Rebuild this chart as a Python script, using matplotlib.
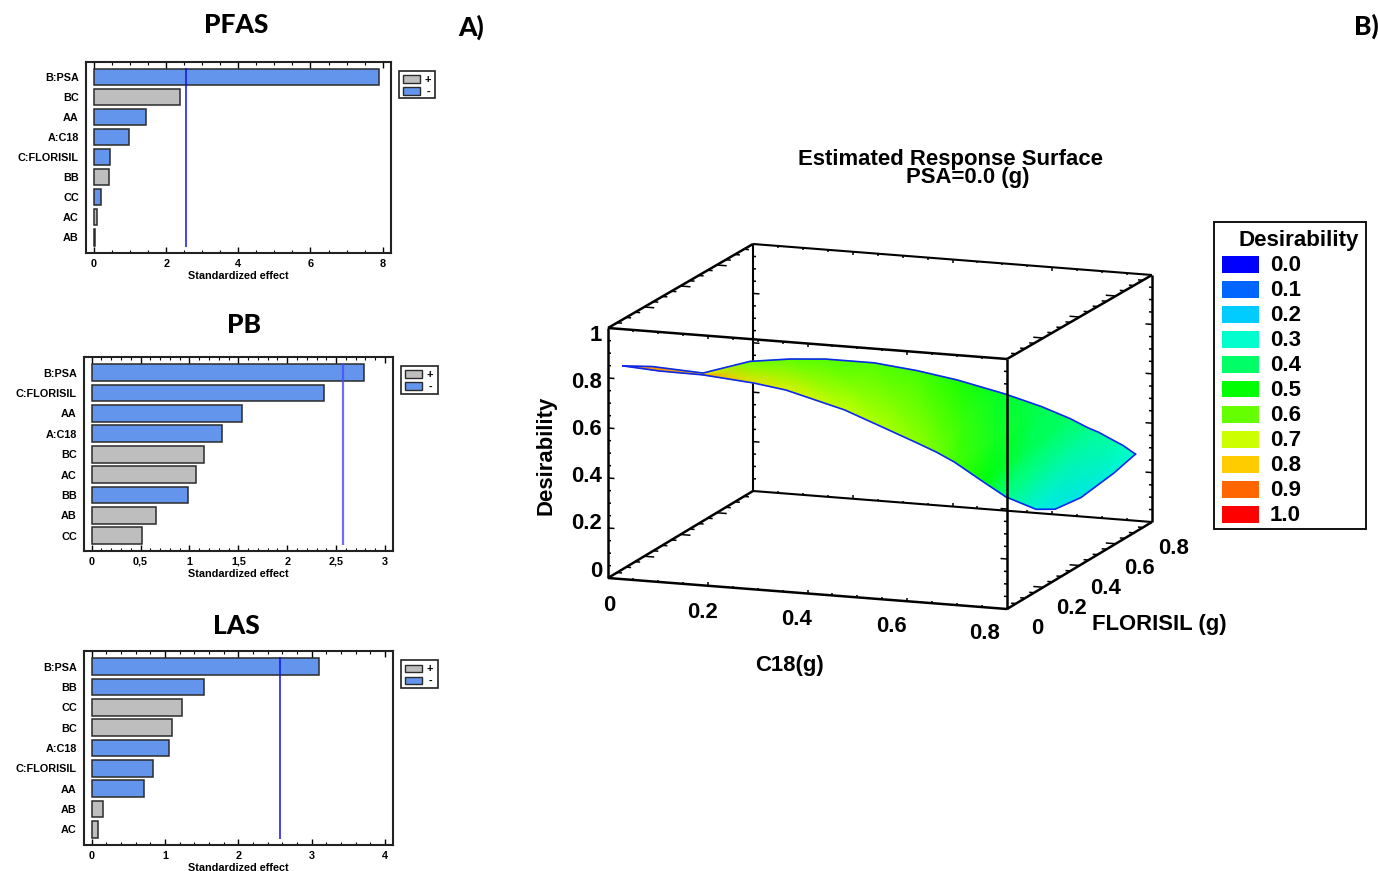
#!/usr/bin/env python3
"""
Pareto charts of standardized effects and the estimated response surface.
"""

import numpy as np
import matplotlib
matplotlib.use('Agg')
import matplotlib.pyplot as plt
from matplotlib.collections import LineCollection
from matplotlib.colors import LinearSegmentedColormap
from matplotlib.patches import Rectangle

W, H = 1378, 871
BLUE = '#6495ED'
GRAY = '#BEBEBE'
EDGE = '#2b2b2b'
LABEL_FONT = 'Liberation Sans'
TITLE_FONT = 'Lato'
SMALL = 7.8
BIG = 15.9

# Pareto charts
pfas_terms = ['B:PSA', 'BC', 'AA', 'A:C18', 'C:FLORISIL', 'BB', 'CC', 'AC', 'AB']
pfas_effects = [7.91, 2.38, 1.44, 0.97, 0.45, 0.425, 0.20, 0.09, 0.02]
pfas_signs = ['-', '+', '-', '-', '-', '+', '-', '+', '+']
pfas_limit = 2.56
pfas_ticks = [0, 2, 4, 6, 8]
pfas_ticklabels = ['0', '2', '4', '6', '8']

pb_terms = ['B:PSA', 'C:FLORISIL', 'AA', 'A:C18', 'BC', 'AC', 'BB', 'AB', 'CC']
pb_effects = [2.78, 2.376, 1.534, 1.333, 1.146, 1.064, 0.989, 0.661, 0.518]
pb_signs = ['-', '-', '-', '-', '+', '+', '-', '+', '+']
pb_limit = 2.57
pb_ticks = [0, 0.5, 1, 1.5, 2, 2.5, 3]
pb_ticklabels = ['0', '0,5', '1', '1,5', '2', '2,5', '3']

las_terms = ['B:PSA', 'BB', 'CC', 'BC', 'A:C18', 'C:FLORISIL', 'AA', 'AB', 'AC']
las_effects = [3.10, 1.536, 1.23, 1.10, 1.055, 0.83, 0.72, 0.16, 0.082]
las_signs = ['-', '-', '+', '+', '-', '-', '-', '+', '+']
las_limit = 2.573
las_ticks = [0, 1, 2, 3, 4]
las_ticklabels = ['0', '1', '2', '3', '4']

# Surface outline: points along the far and near edge, in C18, FLORISIL, desirability
upper_c18 = [0.03, 0.081, 0.153, 0.115, 0.119, 0.175, 0.272, 0.358, 0.438,
             0.533, 0.607, 0.665, 0.70, 0.723, 0.745, 0.771, 0.798]
upper_florisil = [0, 0.02, 0.103, 0.467, 0.677, 0.72, 0.72, 0.72, 0.72,
                  0.72, 0.72, 0.72, 0.72, 0.72, 0.72, 0.72, 0.714]
upper_des = [0.853, 0.85, 0.80, 0.686, 0.606, 0.596, 0.596, 0.578, 0.553,
             0.512, 0.472, 0.432, 0.401, 0.385, 0.364, 0.34, 0.312]
lower_c18 = [0.03, 0.104, 0.19, 0.293, 0.357, 0.474, 0.546, 0.62, 0.658,
             0.694, 0.756, 0.798, 0.8, 0.8, 0.8, 0.8, 0.798]
lower_florisil = [0, 0, 0, 0, 0, 0, 0, 0, 0,
                  0, 0, 0, 0.16, 0.265, 0.408, 0.59, 0.714]
lower_des = [0.853, 0.844, 0.842, 0.825, 0.807, 0.746, 0.692, 0.636, 0.606,
             0.572, 0.497, 0.448, 0.33, 0.285, 0.27, 0.29, 0.312]

# Colour level seen at those same points
upper_level = [0.853, 0.85, 0.74, 0.61, 0.59, 0.58, 0.58, 0.57, 0.53,
               0.46, 0.42, 0.40, 0.37, 0.35, 0.34, 0.32, 0.30]
lower_level = [0.853, 0.85, 0.84, 0.75, 0.73, 0.69, 0.67, 0.64, 0.61,
               0.57, 0.49, 0.37, 0.27, 0.25, 0.25, 0.28, 0.30]

legend_levels = ['0.0', '0.1', '0.2', '0.3', '0.4', '0.5', '0.6', '0.7', '0.8', '0.9', '1.0']
legend_colors = ['#0000ff', '#0066ff', '#00ccff', '#00ffcc', '#00ff66', '#00ff00',
                 '#66ff00', '#ccff00', '#ffcc00', '#ff6600', '#ff0000']
c18_ticks = [0, 0.2, 0.4, 0.6, 0.8]
florisil_ticks = [0, 0.2, 0.4, 0.6, 0.8]
des_ticks = [0, 0.2, 0.4, 0.6, 0.8, 1]


def fmt(v):
    return f'{v:g}'


def project(c18, florisil, des):
    """Oblique projection of the surface box to page pixels"""
    c18, florisil, des = np.asarray(c18), np.asarray(florisil), np.asarray(des)
    px = 608 + 498.75 * c18 + 181.25 * florisil
    py = 578 + 38.75 * c18 - 108.75 * florisil - (250 - 3.75 * florisil) * des
    return px, py


def add_pareto(fig, page, box, first_y, step, x0, x_unit, terms, effects, signs,
               limit, ticks, ticklabels, minor_step, title, title_pos, legend_box,
               limit_style):
    left, top, right, bottom = box
    ax = fig.add_axes([left / W, 1 - bottom / H, (right - left) / W, (bottom - top) / H])
    ax.patch.set_alpha(0)
    y = np.arange(len(terms))
    colors = [BLUE if s == '-' else GRAY for s in signs]
    ax.barh(y, effects, height=0.82, color=colors, edgecolor=EDGE, linewidth=1.1)
    ax.vlines(limit, -0.47, len(terms) - 1 + 0.47, **limit_style)
    ax.set_xlim((left - x0) / x_unit, (right - x0) / x_unit)
    ax.set_ylim((bottom - first_y) / step, (top - first_y) / step)
    ax.set_yticks(y)
    ax.set_yticklabels(terms, fontsize=SMALL, fontweight='bold', family=LABEL_FONT)
    ax.tick_params(axis='y', length=0, pad=5.2)
    ax.set_xticks(ticks)
    ax.set_xticklabels(ticklabels, fontsize=SMALL, fontweight='bold', family=LABEL_FONT,
                       va='baseline')
    ax.set_xticks(np.arange(0, ticks[-1] + 1e-6, minor_step), minor=True)
    ax.tick_params(axis='x', which='major', direction='in', top=True, length=4,
                   width=1, pad=10)
    ax.tick_params(axis='x', which='minor', direction='in', top=True, length=2, width=0.8)
    for side in ax.spines.values():
        side.set_linewidth(1.5)
        side.set_color('#222222')
    page.text((x0 + ticks[-1] * x_unit + x0) / 2, bottom + 23, 'Standardized effect',
              fontsize=SMALL, fontweight='bold', family=LABEL_FONT, ha='center', va='center')
    page.text(title_pos[0], title_pos[1], title, fontsize=19, fontweight='black',
              family=TITLE_FONT, ha='center', va='center')

    # small +/- key next to the frame
    lx0, ly0, lx1, ly1 = legend_box
    page.add_patch(Rectangle((lx0, ly0), lx1 - lx0, ly1 - ly0, fc='white', ec='#222222', lw=1.2))
    for row, (color, sign) in enumerate([(GRAY, '+'), (BLUE, '-')]):
        page.add_patch(Rectangle((lx0 + 4, ly0 + 4.5 + 12 * row), 17, 7.5, fc=color, ec=EDGE, lw=1))
        page.text(lx0 + 29, ly0 + 8.5 + 12 * row, sign, fontsize=SMALL, fontweight='bold',
                  family=LABEL_FONT, ha='center', va='center')
    return ax


def add_box_edges(page):
    back = []
    front = []
    for a, b in [((0, 0.8, 0), (0.8, 0.8, 0)), ((0, 0.8, 1), (0.8, 0.8, 1)),
                 ((0, 0.8, 0), (0, 0.8, 1))]:
        back.append(list(zip(*project(*zip(a, b)))))
    for a, b in [((0, 0, 0), (0.8, 0, 0)), ((0, 0, 1), (0.8, 0, 1)),
                 ((0, 0, 0), (0, 0, 1)), ((0.8, 0, 0), (0.8, 0, 1)),
                 ((0.8, 0.8, 0), (0.8, 0.8, 1)), ((0, 0, 0), (0, 0.8, 0)),
                 ((0, 0, 1), (0, 0.8, 1)), ((0.8, 0, 0), (0.8, 0.8, 0)),
                 ((0.8, 0, 1), (0.8, 0.8, 1))]:
        front.append(list(zip(*project(*zip(a, b)))))
    page.add_collection(LineCollection(back, colors='black', linewidths=1.5, zorder=1))
    page.add_collection(LineCollection(front, colors='black', linewidths=1.8, zorder=3))


def add_box_ticks(page):
    segs = []

    def tick(start, delta):
        end = [s + d for s, d in zip(start, delta)]
        segs.append(list(zip(*project(*zip(start, end)))))

    # vertical edges
    for v in np.arange(0.05, 1.0, 0.05):
        major = abs(v / 0.2 - round(v / 0.2)) < 1e-6
        d = 0.013 if major else 0.006
        tick((0, 0, v), (d, 0, 0))
        tick((0, 0.8, v), (d, 0, 0))
        tick((0.8, 0, v), (-d, 0, 0))
        tick((0.8, 0.8, v), (-d, 0, 0))
    # edges along C18 and FLORISIL
    for v in np.arange(0.05, 0.8, 0.05):
        major = abs(v / 0.2 - round(v / 0.2)) < 1e-6
        d = 0.02 if major else 0.01
        for z in (0, 1):
            tick((0, v, z), (d, 0, 0))
            tick((0.8, v, z), (-d, 0, 0))
        h = 0.014 if major else 0.008
        tick((v, 0, 0), (0, 0, h))
        tick((v, 0.8, 0), (0, 0, h))
        tick((v, 0, 1), (0, 0, -h))
        tick((v, 0.8, 1), (0, 0, -h))
    page.add_collection(LineCollection(segs, colors='black', linewidths=1.1, zorder=1))


def add_surface(page):
    cmap = LinearSegmentedColormap.from_list('desirability', legend_colors)
    ux, uy = project(upper_c18, upper_florisil, upper_des)
    lx, ly = project(lower_c18, lower_florisil, lower_des)
    page.pcolormesh(np.array([ux, lx]), np.array([uy, ly]),
                    np.array([upper_level, lower_level]), cmap=cmap, vmin=0, vmax=1,
                    shading='gouraud', zorder=2)
    page.plot(ux, uy, color='#0a28f0', lw=1.2, zorder=2.5)
    page.plot(lx, ly, color='#0a28f0', lw=1.2, zorder=2.5)


def add_surface_text(page):
    bold = dict(fontweight='bold', family=LABEL_FONT, ha='center', va='center', zorder=4)
    page.text(951, 159, 'Estimated Response Surface', fontsize=BIG, **bold)
    page.text(968, 178, 'PSA=0.0 (g)', fontsize=BIG, **bold)
    for v in des_ticks:
        px, py = project(0, 0, v)
        page.text(px - 6, py - 7 + 14 * v, fmt(v), fontsize=BIG, fontweight='bold',
                  family=LABEL_FONT, ha='right', va='center', zorder=4)
    for v in c18_ticks:
        px, py = project(v, 0, 0)
        page.text(px + 1 - 28.75 * v, py + 27 - 3.75 * v, fmt(v), fontsize=BIG, **bold)
    for v in florisil_ticks:
        px, py = project(0.8, v, 0)
        page.text(px + 30 - 11 * v, py + 19 + 9 * v, fmt(v), fontsize=BIG, **bold)
    page.text(546, 455, 'Desirability', fontsize=BIG, rotation=90, **bold)
    page.text(789, 665, 'C18(g)', fontsize=BIG, **bold)
    page.text(1159, 624, 'FLORISIL (g)', fontsize=BIG, **bold)


def add_color_key(page):
    page.add_patch(Rectangle((1214, 222), 152, 307, fc='white', ec='#111111', lw=1.4))
    page.text(1299, 240, 'Desirability', fontsize=16.1, fontweight='bold',
              family=LABEL_FONT, ha='center', va='center')
    for row, (level, color) in enumerate(zip(legend_levels, legend_colors)):
        page.add_patch(Rectangle((1222, 256 + 25 * row), 37, 16.5, fc=color, ec='none'))
        page.text(1270, 265.5 + 25 * row, level, fontsize=16, fontweight='bold',
                  family=LABEL_FONT, ha='left', va='center')


def main():
    fig = plt.figure(figsize=(W / 100, H / 100), dpi=100)
    page = fig.add_axes([0, 0, 1, 1])
    page.set_xlim(0, W)
    page.set_ylim(H, 0)
    page.axis('off')

    add_pareto(fig, page, (86, 61.7, 391, 252.7), 77, 20.04, 94, 36.08,
               pfas_terms, pfas_effects, pfas_signs, pfas_limit, pfas_ticks,
               pfas_ticklabels, 0.5, 'PFAS', (236, 25), (399, 71, 435, 98),
               dict(color='#1010e8', lw=1.1))
    add_pareto(fig, page, (84, 356.7, 393.3, 550.7), 372.7, 20.38, 91.7, 97.77,
               pb_terms, pb_effects, pb_signs, pb_limit, pb_ticks,
               pb_ticklabels, 0.1, 'PB', (244, 325), (401, 366, 438, 394),
               dict(color='#4a4af5', lw=1.6, alpha=0.8))
    add_pareto(fig, page, (84, 650.7, 393.3, 845.3), 666.7, 20.33, 91.7, 73.33,
               las_terms, las_effects, las_signs, las_limit, las_ticks,
               las_ticklabels, 0.2, 'LAS', (236, 626), (401, 660, 438, 688),
               dict(color='#1010e8', lw=1.1))

    page.text(471, 27, 'A)', fontsize=19, fontweight='black', family=TITLE_FONT,
              ha='center', va='center')
    page.text(1366, 26, 'B)', fontsize=19, fontweight='black', family=TITLE_FONT,
              ha='center', va='center')

    add_box_edges(page)
    add_box_ticks(page)
    add_surface(page)
    add_surface_text(page)
    add_color_key(page)

    plt.savefig('out.png', dpi=100)


if __name__ == '__main__':
    main()
